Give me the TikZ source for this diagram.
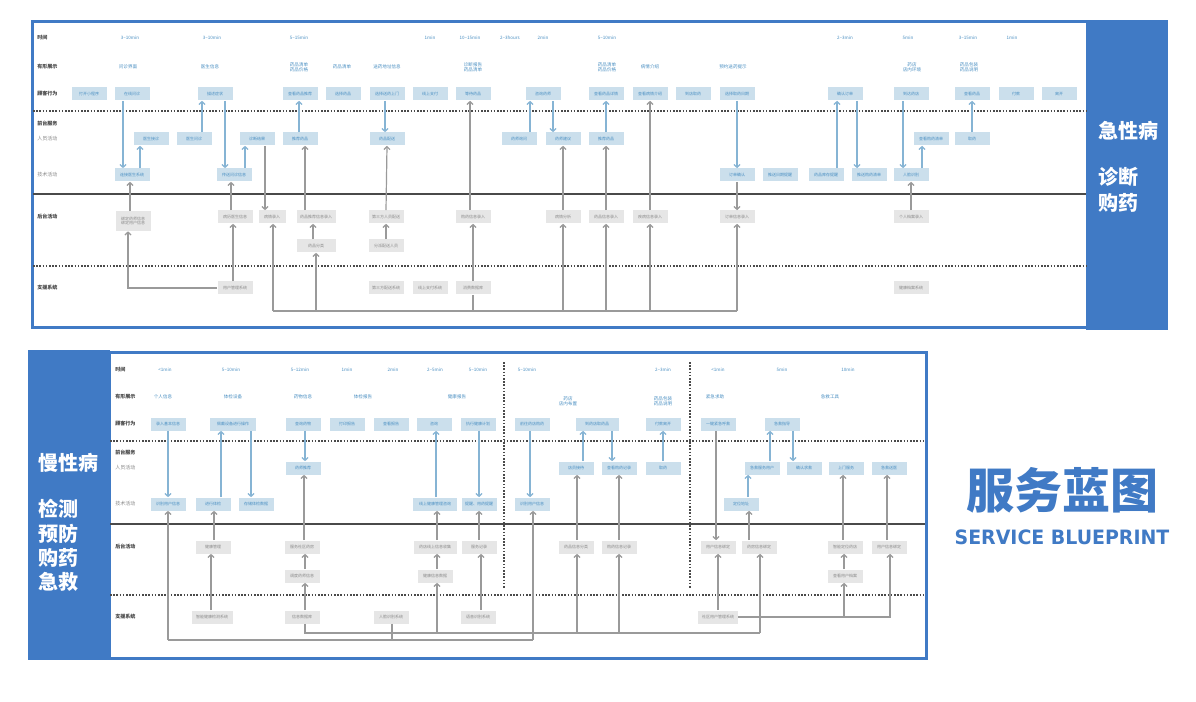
\documentclass[tikz,border=0pt]{standalone}
\usepackage{fontspec}
\usepackage{graphicx}
\setmainfont{Noto Sans CJK SC}
\newfontfamily\titlefont{DejaVu Sans}
\usetikzlibrary{arrows.meta}
\definecolor{mainblue}{HTML}{407AC5}
\definecolor{boxblue}{HTML}{CBDFEC}
\definecolor{txtblue}{HTML}{4A8FC2}
\definecolor{boxgray}{HTML}{E6E6E6}
\definecolor{txtgray}{HTML}{8A8A8A}
\definecolor{labgray}{HTML}{444444}
\definecolor{arrblue}{HTML}{86B4D4}
\definecolor{arrgray}{HTML}{9A9A9A}
\definecolor{linegray}{HTML}{4A4A4A}
\newcommand\tld{\textasciitilde}
\tikzset{
 fb/.style={rectangle, fill=boxblue, text=txtblue, font=\fontsize{3}{3.6}\selectfont, minimum width=26.25pt, minimum height=9.75pt, inner sep=0.5pt, align=center},
 bk/.style={fb, fill=boxgray, text=txtgray},
 rl/.style={anchor=west, font=\fontsize{3.8}{4.5}\selectfont\bfseries, text=labgray, inner sep=0},
 rlt/.style={anchor=west, font=\fontsize{3.8}{4.5}\selectfont, text=txtgray, inner sep=0},
 tm/.style={font=\fontsize{3.4}{4}\selectfont, text=txtblue, align=center, inner sep=0},
 ba/.style={draw=arrblue, line width=0.9pt, -{Straight Barb[length=2.2pt,width=4.5pt]}},
 ga/.style={draw=arrgray, line width=0.9pt, -{Straight Barb[length=2.2pt,width=4.5pt]}},
 gl/.style={draw=arrgray, line width=0.9pt},
 dotl/.style={draw=linegray, line width=0.8pt, dash pattern=on 1.2pt off 1.2pt},
 soll/.style={draw=linegray, line width=1.1pt},
 side/.style={anchor=west, text=white, font=\fontsize{15}{15}\selectfont\bfseries, inner sep=0},
}
\begin{document}
\begin{tikzpicture}[x=0.75pt,y=-0.75pt]
\useasboundingbox (0,0) rectangle (1196,702);
\fill[white] (0,0) rectangle (1196,702);

% ================= TOP PANEL =================
\fill[mainblue] (1086,20) rectangle (1168,330);
\draw[mainblue,line width=2.25pt] (32,22) rectangle (1087,328);
\draw[dotl] (33,111) -- (1086,111);
\draw[soll] (33,194) -- (1086,194);
\draw[dotl] (33,266) -- (1086,266);

\foreach \n/\y/\t in {r1/38/时间, r2/67/有形展示, r3/94/顾客行为, r4/124/前台服务, r7/217/后台活动, r8/288/支援系统}
  \node[rl] (\n) at (37,\y) {\t};
\node[rlt] (r5) at (37,139) {人员活动};
\node[rlt] (r6) at (37,175) {技术活动};

\foreach \n/\x/\t in {tt1/130/3\tld10min, tt2/212/3\tld10min, tt3/299/5\tld15min, tt4/430/1min, tt5/470/10\tld15min, tt6/510/2\tld3hours, tt7/543/2min, tt8/607/5\tld10min, tt9/845/2\tld3min, tt10/908/5min, tt11/968/3\tld15min, tt12/1012/1min}
  \node[tm] (\n) at (\x,38) {\t};
\foreach \n/\x/\t in {tg1/128/问诊界面, tg2/210/医生信息, tg3/299/{药品清单\\药品价格}, tg4/342/药品清单, tg5/387/送药地址信息, tg6/473/{诊断报告\\药品清单}, tg7/607/{药品清单\\药品价格}, tg8/650/病情介绍, tg9/733/预约送药提示, tg10/912/{药店\\店内环境}, tg11/969/{药品包装\\药品说明}}
  \node[tm] (\n) at (\x,67) {\t};

\foreach \n/\x/\t in {ca1/89/打开小程序, ca2/132/在线问诊, ca3/215/描述症状, ca4/300/查看药品推荐, ca5/343/选择药品, ca6/387/选择送药上门, ca7/430/线上支付, ca8/473/等待药品, ca9/543/咨询药师, ca10/606/查看药品详情, ca11/650/查看病情介绍, ca12/693/到店取药, ca13/737/选择取药日期, ca14/845/确认订单, ca15/911/到达药店, ca16/972/查看药品, ca17/1016/付款, ca18/1059/离开}
  \node[fb] (\n) at (\x,94) {\t};
\foreach \n/\x/\t in {sa1/151/医生接诊, sa2/194/医生问诊, sa3/257/诊断结果, sa4/300/推荐药品, sa5/387/药品配送, sa6/519/药师询问, sa7/563/药师建议, sa8/606/推荐药品, sa9/931/查看购药清单, sa10/972/取药}
  \node[fb] (\n) at (\x,139) {\t};
\foreach \n/\x/\t in {ta1/132/连接医生系统, ta2/234/传送问诊信息, ta3/737/订单确认, ta4/780/推送日期提醒, ta5/826/药品库存提醒, ta6/869/推送购药清单, ta7/911/人脸识别}
  \node[fb] (\n) at (\x,175) {\t};
\foreach \n/\x/\t in {ba2/235/病历医生信息, ba5/386/第三方人员配送, ba6/473/购药信息录入, ba7/563/病情分析, ba8/606/药品信息录入, ba9/650/疾病信息录入, ba10/737/订单信息录入, ba11/911/个人档案录入}
  \node[bk] (\n) at (\x,217) {\t};
\node[bk, minimum height=15pt] (ba1) at (133,221) {绑定药师信息\\绑定用户信息};
\node[bk, minimum width=20.25pt] (ba3) at (272,217) {病情录入};
\node[bk, minimum width=29.25pt] (ba4) at (316,217) {药品推荐信息录入};
\node[bk, minimum width=29.25pt] (bb1) at (316,246) {药品分类};
\node[bk] (bb2) at (386,246) {分派配送人员};
\foreach \n/\x/\t in {su1/235/用户管理系统, su2/386/第三方配送系统, su3/430/线上支付系统, su4/473/消费数据库, su5/911/健康档案系统}
  \node[bk] (\n) at (\x,288) {\t};

% top blue arrows
\draw[ba] (ca2.south -| 123,0) -- (ta1.north -| 123,0);
\draw[ba] (ta1.north -| 140,0) -- (sa1.south -| 140,0);
\draw[ba] (sa2.north -| 202,0) -- (ca3.south -| 202,0);
\draw[ba] (ca3.south -| 225,0) -- (ta2.north -| 225,0);
\draw[ba] (ta2.north -| 245,0) -- (sa3.south -| 245,0);
\draw[ba] (sa4.north -| 299,0) -- (ca4.south -| 299,0);
\draw[ba] (ca6.south -| 385,0) -- (sa5.north -| 385,0);
\draw[ba] (sa6.north -| 530,0) -- (ca9.south -| 530,0);
\draw[ba] (ca9.south -| 553,0) -- (sa7.north -| 553,0);
\draw[ba] (sa8.north) -- (ca10.south);
\draw[ba] (ca13.south) -- (ta3.north);
\draw[ba] (ta5.north -| 837,0) -- (ca14.south -| 837,0);
\draw[ba] (ca14.south -| 857,0) -- (ta6.north -| 857,0);
\draw[ba] (ca15.south -| 903,0) -- (ta7.north -| 903,0);
\draw[ba] (ta7.north -| 922,0) -- (sa9.south -| 922,0);
\draw[ba] (sa10.north) -- (ca16.south);

% top gray arrows
\draw[ga] (ba1.north -| 130,0) -- (ta1.south -| 130,0);
\draw[ga] (ba2.north -| 231,0) -- (ta2.south -| 231,0);
\draw[ga] (sa3.south -| 265,0) -- (ba3.north -| 265,0);
\draw[ga] (ba4.north -| 305,0) -- (sa4.south -| 305,0);
\draw[ga] (bb1.north -| 313,0) -- (ba4.south -| 313,0);
\draw[ga] (ba5.north) -- (sa5.south);
\draw[ga] (bb2.north) -- (ba5.south);
\draw[ga] (su1.west) -| (ba1.south -| 128,0);
\draw[ga] (su1.north -| 233,0) -- (ba2.south -| 233,0);
\draw[ga] (ba6.north -| 470,0) -- (ca8.south -| 470,0);
\draw[ga] (su4.north) -- (ba6.south);
\coordinate (tl1) at (273,311);
\coordinate (tl2) at (737,311);
\draw[gl] (su4.south) -- (su4.south |- tl1);
\draw[gl] (tl1) -- (tl2);
\draw[ga] (tl1) -- (ba3.south -| tl1);
\draw[ga] (bb1.south |- tl1) -- (bb1.south);
\draw[ga] (ba7.south |- tl1) -- (ba7.south);
\draw[ga] (ba8.south |- tl1) -- (ba8.south);
\draw[ga] (ba9.south |- tl1) -- (ba9.south);
\draw[ga] (tl2) -- (ba10.south);
\draw[ga] (ba7.north) -- (sa7.south);
\draw[ga] (ba8.north) -- (sa8.south);
\draw[ga] (ba9.north) -- (ca11.south);
\draw[ga] (ta3.south) -- (ba10.north);
\draw[ga] (ba11.north) -- (ta7.south);

\node[side] (h1) at (1098,131) {急性病};
\node[side] (h2) at (1098,177) {诊断};
\node[side] (h3) at (1098,203) {购药};

% ================= BOTTOM PANEL =================
\fill[mainblue] (28,350) rectangle (110,660);
\draw[mainblue,line width=2.25pt] (109,352) rectangle (926,658);
\draw[dotl] (110,441) -- (925,441);
\draw[soll] (110,524) -- (925,524);
\draw[dotl] (110,595) -- (925,595);
\draw[dotl] (504,362) -- (504,588);
\draw[dotl] (690,362) -- (690,588);

\foreach \n/\y/\t in {q1/370/时间, q2/397/有形展示, q3/424/顾客行为, q4/453/前台服务, q7/547/后台活动, q8/617/支援系统}
  \node[rl] (\n) at (115,\y) {\t};
\node[rlt] (q5) at (115,468) {人员活动};
\node[rlt] (q6) at (115,504) {技术活动};

\foreach \n/\x/\t in {bt1/165/<1min, bt2/231/5\tld10min, bt3/300/5\tld12min, bt4/347/1min, bt5/393/2min, bt6/435/2\tld5min, bt7/478/5\tld10min, bt8/527/5\tld10min, bt9/663/2\tld3min, bt10/718/<1min, bt11/782/5min, bt12/848/10min}
  \node[tm] (\n) at (\x,370) {\t};
\foreach \n/\x/\y/\t in {bg1/163/397/个人信息, bg2/233/397/体检设备, bg3/303/397/药物信息, bg4/363/397/体检报告, bg5/457/397/健康报告, bg6/568/401/{药店\\店内布置}, bg7/663/401/{药品包装\\药品说明}, bg8/715/397/紧急求助, bg9/830/397/急救工具}
  \node[tm] (\n) at (\x,\y) {\t};

\foreach \n/\x/\t in {cb1/168/录入基本信息, cb3/303/查询药物, cb4/347/打印报告, cb5/391/查看报告, cb6/434/咨询, cb7/478/执行健康计划, cb8/532/前往药店购药, cb10/663/付款离开, cb11/718/一键紧急呼救, cb12/782/急救指导}
  \node[fb] (\n) at (\x,424) {\t};
\node[fb, minimum width=34.5pt] (cb2) at (233,424) {佩戴设备进行操作};
\node[fb, minimum width=32.25pt] (cb9) at (597,424) {到药店取药品};
\foreach \n/\x/\t in {sb1/303/药师推荐, sb2/576/店员接待, sb3/619/查看购药记录, sb4/663/取药, sb5/762/急救服务用户, sb6/804/确认求救, sb7/846/上门服务, sb8/889/急救送医}
  \node[fb] (\n) at (\x,468) {\t};
\foreach \n/\x/\t in {tb1/168/识别用户信息, tb2/213/进行体检, tb3/256/存储体检数据, tb5/479/提醒、用药提醒, tb6/532/识别用户信息, tb7/741/定位地址}
  \node[fb] (\n) at (\x,504) {\t};
\node[fb, minimum width=33pt] (tb4) at (435,504) {线上健康管理咨询};
\foreach \n/\x/\t in {bc1/213/健康管理, bc2/302/服务社区药房, bc4/479/服务记录, bc5/576/药品信息分类, bc6/619/购药信息记录, bc7/718/用户信息绑定, bc8/759/药房信息绑定, bc9/845/智能定位药店, bc10/889/用户信息绑定}
  \node[bk] (\n) at (\x,547) {\t};
\node[bk, minimum width=32.25pt] (bc3) at (435,547) {药店线上信息收集};
\foreach \n/\x/\t in {bd1/302/调度药师信息, bd2/435/健康信息数据, bd3/845/查看用户档案}
  \node[bk] (\n) at (\x,576) {\t};
\foreach \n/\x/\t in {sc2/302/信息数据库, sc3/391/人脸识别系统, sc4/478/语音识别系统}
  \node[bk] (\n) at (\x,617) {\t};
\node[bk, minimum width=30.75pt] (sc1) at (212,617) {智能健康检测系统};
\node[bk, minimum width=30pt] (sc5) at (718,617) {社区用户管理系统};

% bottom blue arrows
\draw[ba] (cb1.south) -- (tb1.north);
\draw[ba] (tb2.north -| 221,0) -- (cb2.south -| 221,0);
\draw[ba] (cb2.south -| 251,0) -- (tb3.north -| 251,0);
\draw[ba] (cb3.south -| 305,0) -- (sb1.north -| 305,0);
\draw[ba] (tb4.north -| 436,0) -- (cb6.south -| 436,0);
\draw[ba] (cb7.south -| 479,0) -- (tb5.north -| 479,0);
\draw[ba] (cb8.south -| 530,0) -- (tb6.north -| 530,0);
\draw[ba] (sb2.north -| 583,0) -- (cb9.south -| 583,0);
\draw[ba] (cb9.south -| 612,0) -- (sb3.north -| 612,0);
\draw[ba] (sb4.north) -- (cb10.south);
\draw[ba] (tb7.north -| 748,0) -- (sb5.south -| 748,0);
\draw[ba] (sb5.north -| 770,0) -- (cb12.south -| 770,0);
\draw[ba] (cb12.south -| 793,0) -- (sb6.north -| 793,0);

% bottom gray arrows
\draw[ga] (bc2.north -| 304,0) -- (sb1.south -| 304,0);
\draw[ga] (bc1.north -| 214,0) -- (tb2.south -| 214,0);
\draw[ga] (sc1.north -| 211,0) -- (bc1.south -| 211,0);
\draw[ga] (bd1.north -| 305,0) -- (bc2.south -| 305,0);
\draw[ga] (sc2.north -| 305,0) -- (bd1.south -| 305,0);
\draw[ga] (bc3.north -| 437,0) -- (tb4.south -| 437,0);
\draw[ga] (bd2.north -| 437,0) -- (bc3.south -| 437,0);
\draw[ga] (bc4.north) -- (tb5.south);
\draw[ga] (sc4.north -| 481,0) -- (bc4.south -| 481,0);
\draw[ga] (bc5.north -| 577,0) -- (sb2.south -| 577,0);
\draw[ga] (bc6.north) -- (sb3.south);
\draw[ga] (cb11.south -| 716,0) -- (bc7.north -| 716,0);
\draw[ga] (bc8.north -| 749,0) -- (tb7.south -| 749,0);
\draw[ga] (bc9.north -| 843,0) -- (sb7.south -| 843,0);
\draw[ga] (bc10.north -| 887,0) -- (sb8.south -| 887,0);
\draw[ga] (sc5.north) -- (bc7.south);
\draw[ga] (bd3.north -| 844,0) -- (bc9.south -| 844,0);
\draw[ga] (sc5.east) -| (bc10.south -| 890,0);
\draw[ga] (sc5.east -| 844,0) -- (bd3.south -| 844,0);
\coordinate (bl1) at (305,633);
\coordinate (bl2) at (760,633);
\draw[gl] (sc2.south -| bl1) -- (bl1) -- (bl2);
\draw[ga] (bl2) -- (bc8.south -| bl2);
\draw[ga] (bl1 -| 437,0) -- (bd2.south -| 437,0);
\draw[ga] (bl1 -| 577,0) -- (bc5.south -| 577,0);
\draw[ga] (bl1 -| 619,0) -- (bc6.south -| 619,0);
\coordinate (bm1) at (168,640);
\coordinate (bm2) at (533,640);
\draw[gl] (bm1) -- (bm2);
\draw[gl] (sc3.south -| 392,0) -- (bm1 -| 392,0);
\draw[ga] (bm1) -- (tb1.south -| bm1);
\draw[ga] (bm2) -- (tb6.south -| bm2);

\node[side] (h4) at (38,463) {慢性病};
\node[side] (h5) at (38,509) {检测};
\node[side] (h6) at (38,534) {预防};
\node[side] (h7) at (38,558) {购药};
\node[side] (h8) at (38,582) {急救};

% title
\node[text=mainblue, font=\fontsize{36}{36}\selectfont\bfseries, inner sep=0] (h9) at (1062,490) {服务蓝图};
\node[text=mainblue, inner sep=0] (h10) at (1062,537) {\resizebox{161pt}{11pt}{\titlefont\bfseries SERVICE BLUEPRINT}};
\end{tikzpicture}
\end{document}
